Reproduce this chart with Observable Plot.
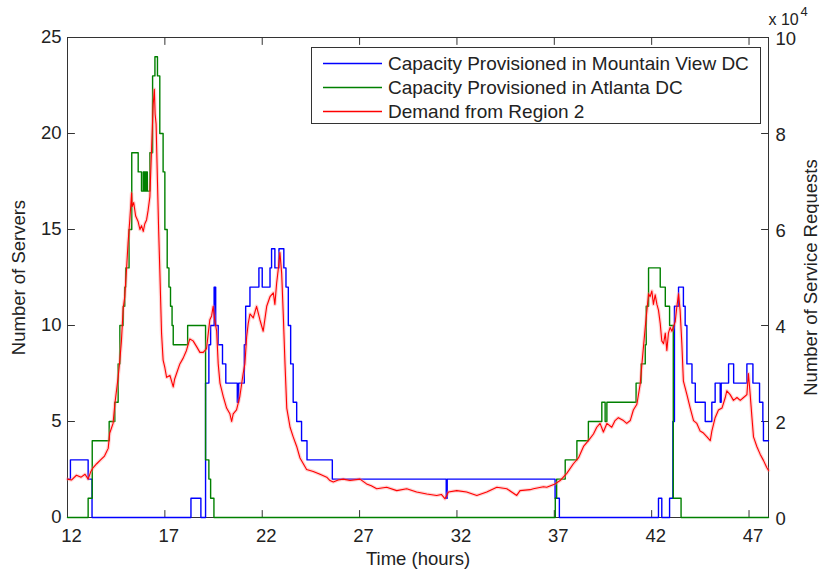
<!DOCTYPE html>
<html>
<head>
<meta charset="utf-8">
<script src="https://cdn.jsdelivr.net/npm/d3@7"></script>
<script src="https://cdn.jsdelivr.net/npm/@observablehq/plot@0.6"></script>
<style>
  body { margin: 0; background: #fff; }
  #wrap { position: relative; width: 819px; height: 571px; font-family: "Liberation Sans", Arial, sans-serif; }
  #legend { position: absolute; left: 311px; top: 47px; width: 448px; height: 75px; border: 1px solid #333; background: #fff; }
  .row { position: absolute; left: 0; height: 24px; width: 100%; }
  .swatch { position: absolute; left: 11px; top: 0; }
  .lab { position: absolute; left: 76px; top: 0; font-size: 19px; line-height: 24px; color: #222; white-space: nowrap; }
</style>
</head>
<body>
<div id="wrap"></div>
<script>
// ---- data ----
const xTicks = [12, 17, 22, 27, 32, 37, 42, 47];
const serverTicks = [0, 5, 10, 15, 20, 25];
const requestsPerServer = 4000;          // right axis: 25 servers = 10 x 10^4 requests
const legendLabels = ["Capacity Provisioned in Mountain View DC", "Capacity Provisioned in Atlanta DC", "Demand from Region 2"];
const seriesColors = ["#0000ff", "#008000", "#ff0000"];

// [hour, servers] step series
const mountainView = [
[12.0,2],[12.15,3],[13.06,2],[13.26,0],[18.34,1],[18.85,0],[19.09,7],[19.26,9],[19.35,10],[19.53,12],
[19.56,10],[19.58,12],[19.61,10],[19.74,9],[19.96,8],[20.13,7],[20.72,6],[20.79,7],[21.08,9],[21.15,11],
[21.37,12],[21.83,13],[22.0,12],[22.4,13],[22.48,14],[22.65,13],[22.86,14],[23.11,13],[23.22,12],[23.34,10],
[23.46,8],[23.59,6],[23.77,5],[24.02,4],[24.3,3],[25.6,2],[31.45,1],[31.5,2],[37.04,1],[37.26,0],
[42.35,1],[42.52,0],[42.92,1],[43.09,5],[43.17,11],[43.38,12],[43.63,11],[43.72,10],[43.81,8],[44.07,7],
[44.24,6],[44.75,5],[45.09,6],[45.26,7],[45.52,6],[45.57,7],[45.95,8],[46.21,7],[46.89,8],[47.2,7],
[47.54,6],[47.71,5],[47.74,4],[48,4]
];
const atlanta = [
[12.0,0],[13.06,1],[13.27,4],[14.14,5],[14.43,6],[14.6,8],[14.69,10],[14.86,11],[14.94,12],[14.99,13],
[15.16,15],[15.3,19],[15.63,18],[15.8,17],[15.89,18],[15.92,17],[15.95,18],[15.98,17],[16.01,18],[16.04,17],
[16.07,18],[16.1,17],[16.23,19],[16.37,23],[16.49,24],[16.62,23],[16.74,20],[16.91,18],[17.0,15],[17.12,13],
[17.21,12],[17.29,11],[17.37,10],[17.43,9],[18.17,10],[19.09,3],[19.26,2],[19.35,1],[19.52,0],[37.05,1],
[37.12,2],[37.56,3],[38.16,4],[38.75,5],[39.44,6],[39.61,5],[39.7,6],[41.2,7],[41.46,8],[41.67,9],
[41.72,11],[41.84,13],[42.44,12],[42.7,11],[42.92,10],[43.11,1],[43.51,0],[48,0]
];
// [hour, service requests]
const demand = [
[12.00,8000],[12.20,7800],[12.46,8800],[12.70,8400],[12.90,9000],[13.06,8000],[13.20,9600],[13.32,10400],[13.50,11200],[13.70,12000],
[13.90,12800],[14.09,14400],[14.17,17600],[14.34,19600],[14.43,23600],[14.60,29200],[14.69,32800],[14.77,36800],[14.86,43600],[14.94,46000],
[15.03,51600],[15.11,57200],[15.20,62000],[15.29,67600],[15.32,64800],[15.40,65600],[15.50,62800],[15.63,61600],[15.72,60000],[15.80,60800],
[15.89,59600],[15.97,61200],[16.06,62000],[16.14,64000],[16.23,66800],[16.31,76000],[16.40,86000],[16.46,89200],[16.50,84000],[16.55,82000],
[16.62,70000],[16.68,60000],[16.74,51600],[16.83,38400],[16.91,32800],[17.00,31200],[17.09,29200],[17.26,29600],[17.43,27200],[17.50,28800],
[17.60,30000],[17.77,32000],[17.94,33200],[18.11,34800],[18.28,37200],[18.45,36800],[18.63,35600],[18.80,34400],[18.97,34400],[19.14,35200],
[19.23,38400],[19.31,41200],[19.40,42000],[19.48,44000],[19.56,41200],[19.66,38800],[19.74,32000],[19.83,28000],[20.00,25200],[20.17,22800],
[20.34,21600],[20.43,20000],[20.51,21600],[20.68,22400],[20.85,25200],[21.02,30000],[21.11,32000],[21.20,37600],[21.28,40400],[21.37,42400],
[21.54,41600],[21.71,44000],[21.88,41200],[22.05,38800],[22.23,44000],[22.40,46000],[22.57,46800],[22.65,44400],[22.74,48800],[22.82,51600],
[22.91,55200],[23.00,50800],[23.08,42400],[23.17,32000],[23.26,22800],[23.43,18800],[23.59,16800],[23.77,14800],[23.94,12400],[24.11,11200],
[24.28,10000],[24.45,9800],[24.62,9600],[24.97,9000],[25.31,8400],[25.48,7700],[25.65,7400],[25.90,7800],[26.16,8000],[26.51,7700],
[27.02,8000],[27.36,7000],[27.60,6600],[27.88,6000],[28.39,6300],[28.91,5600],[29.42,6000],[29.93,5300],[30.45,4900],[30.96,4600],
[31.20,4800],[31.39,3900],[31.56,5300],[31.99,5600],[32.50,5300],[33.02,4600],[33.53,5300],[34.05,6300],[34.56,6000],[35.07,4600],
[35.24,5600],[35.76,5800],[35.93,6000],[36.44,6400],[36.61,6300],[37.04,7000],[37.30,7700],[37.64,9200],[37.98,11200],[38.24,12400],
[38.50,14800],[38.75,16000],[39.01,17400],[39.18,18800],[39.35,19600],[39.52,17800],[39.70,19600],[39.95,18800],[40.12,20200],[40.29,20800],
[40.55,20200],[40.72,19600],[40.90,20200],[41.06,22400],[41.24,23600],[41.41,27800],[41.50,32000],[41.67,39600],[41.84,46600],[41.92,46000],
[42.01,47200],[42.09,44400],[42.18,46400],[42.27,44400],[42.35,43200],[42.44,40400],[42.52,36800],[42.61,36200],[42.70,38400],[42.78,34800],
[42.86,38400],[42.95,39600],[43.04,38800],[43.21,40800],[43.29,43800],[43.38,46600],[43.46,43200],[43.55,36200],[43.63,28400],[43.81,25600],
[43.98,22800],[44.15,20200],[44.32,19600],[44.49,18000],[44.66,17600],[44.84,16800],[45.01,16000],[45.09,18000],[45.26,20800],[45.43,22400],
[45.61,22800],[45.78,25000],[45.86,26400],[46.03,25600],[46.20,24400],[46.38,25000],[46.55,24400],[46.72,25000],[46.89,25600],[46.97,30000],
[47.06,25600],[47.15,20800],[47.23,16800],[47.40,14800],[47.57,13200],[47.74,11900],[47.91,10400],[48.00,9800]
];

// ---- chart ----
const axisColor = "#333";
const tickShape = { draw(context, l) { context.moveTo(0, 0); context.lineTo(0, -l); } };
const tickOpts = { length: 7, anchor: "start", shape: tickShape, stroke: axisColor, strokeWidth: 1 };

const chart = Plot.plot({
  width: 819,
  height: 571,
  marginLeft: 67,
  marginRight: 51,
  marginTop: 37,
  marginBottom: 54,
  x: { domain: [12, 48] },
  y: { domain: [0, 25] },
  style: { fontFamily: "'Liberation Sans', Arial, sans-serif", fontSize: "18.5px", color: "#222", background: "white", overflow: "visible" },
  marks: [
    Plot.frame({ stroke: axisColor, strokeWidth: 1 }),
    Plot.vector(xTicks, { x: d => d, frameAnchor: "bottom", rotate: 0, ...tickOpts }),
    Plot.vector(xTicks, { x: d => d, frameAnchor: "top", rotate: 180, ...tickOpts }),
    Plot.vector(serverTicks, { y: d => d, frameAnchor: "left", rotate: 90, ...tickOpts }),
    Plot.vector(serverTicks, { y: d => d, frameAnchor: "right", rotate: -90, ...tickOpts }),
    Plot.axisX(xTicks, { anchor: "bottom", tickSize: 0, tickPadding: 11, dx: 4, tickFormat: d => String(d),
      label: "Time (hours)", labelAnchor: "center", labelOffset: 47, labelArrow: "none" }),
    Plot.axisY(serverTicks, { anchor: "left", tickSize: 0, tickPadding: 6, tickFormat: d => String(d),
      label: "Number of Servers", labelAnchor: "center", labelOffset: 56, labelArrow: "none" }),
    Plot.axisY(serverTicks, { anchor: "right", tickSize: 0, tickPadding: 7, dy: 2,
      tickFormat: d => String(d * requestsPerServer / 1e4),
      label: "Number of Service Requests", labelAnchor: "center", labelOffset: 48, labelArrow: "none" }),
    Plot.text(["x 10"], { frameAnchor: "top-right", textAnchor: "start", lineAnchor: "bottom", dy: -13, fontSize: 16, fill: "#222" }),
    Plot.text(["4"], { frameAnchor: "top-right", textAnchor: "start", lineAnchor: "bottom", dx: 32, dy: -22, fontSize: 13, fill: "#222" }),
    Plot.line(mountainView, { x: d => d[0], y: d => d[1], curve: "step-after", stroke: seriesColors[0], strokeWidth: 1.4 }),
    Plot.line(atlanta, { x: d => d[0], y: d => d[1], curve: "step-after", stroke: seriesColors[1], strokeWidth: 1.4 }),
    Plot.line(demand, { x: d => d[0], y: d => d[1] / requestsPerServer, stroke: "#ff8080", strokeWidth: 3.5, strokeOpacity: 0.35 }),
    Plot.line(demand, { x: d => d[0], y: d => d[1] / requestsPerServer, stroke: seriesColors[2], strokeWidth: 1.1 })
  ]
});

const wrap = document.getElementById("wrap");
wrap.appendChild(chart);

const svgNS = "http://www.w3.org/2000/svg";
const legend = document.createElement("div");
legend.id = "legend";
legendLabels.forEach((t, i) => {
  const row = document.createElement("div");
  row.className = "row";
  row.style.top = (4 + i * 24) + "px";
  const sw = document.createElementNS(svgNS, "svg");
  sw.setAttribute("class", "swatch");
  sw.setAttribute("width", "60");
  sw.setAttribute("height", "24");
  const ln = document.createElementNS(svgNS, "line");
  ln.setAttribute("x1", "0"); ln.setAttribute("x2", "59");
  ln.setAttribute("y1", "11.5"); ln.setAttribute("y2", "11.5");
  ln.setAttribute("stroke", seriesColors[i]);
  ln.setAttribute("stroke-width", "1.3");
  sw.appendChild(ln);
  const lab = document.createElement("div");
  lab.className = "lab";
  lab.textContent = t;
  row.appendChild(sw);
  row.appendChild(lab);
  legend.appendChild(row);
});
wrap.appendChild(legend);
</script>
</body>
</html>
